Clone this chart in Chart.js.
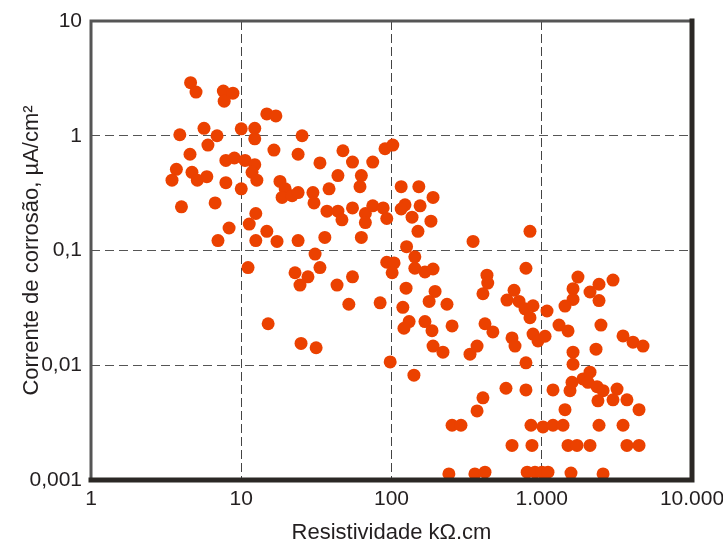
<!DOCTYPE html>
<html>
<head>
<meta charset="utf-8">
<script src="https://cdn.jsdelivr.net/npm/chart.js@4.4.1/dist/chart.umd.min.js"></script>
<style>
  body { margin: 0; background: #fff; }
  #wrap { width: 723px; height: 548px; }
</style>
</head>
<body>
<div id="wrap"><canvas id="grafico" width="723" height="548"></canvas></div>
<script>
// Resistividade (kΩ.cm) e corrente de corrosão (µA/cm²)
const resistividade = [
    4.6, 5.0, 7.6, 8.8, 7.7, 3.9, 5.65, 6.9, 6.0, 10,
    4.56, 3.7, 3.46, 4.7, 5.1, 5.9, 7.9, 9.0, 7.9, 10,
    4.0, 6.7, 8.3, 7.0, 10.6, 12.3, 12.3, 12.3, 11.8, 12.7,
    14.8, 17, 16.5, 25.4, 23.9, 33.4, 18.1, 19.6, 18.7, 21.8,
    23.9, 30, 30.5, 38.4, 44, 47.5, 55, 75, 90.5, 102,
    63, 61.7, 37.2, 44, 46.8, 55, 67, 67, 75, 88,
    93, 12.5, 11.3, 12.5, 14.8, 17.3, 23.9, 36, 63, 11.1,
    31, 33.4, 22.8, 27.8, 24.6, 43.4, 55, 52, 84, 15.1,
    25, 31.5, 98, 116, 152, 189, 123, 116, 155, 137,
    183, 150, 126, 143, 93, 104, 101, 143, 167, 189,
    349, 432, 437, 406, 125, 195, 178, 119, 234, 131,
    121, 167, 186, 253, 189, 220, 333, 371, 141, 419,
    473, 371, 406, 253, 290, 241, 359, 419, 835, 785,
    654, 587, 706, 774, 875, 835, 634, 664, 578, 785,
    785, 634, 861, 848, 800, 902, 1004, 1100, 1565, 2560,
    1019, 1188, 1385, 2405, 3475, 1496, 1717, 2095, 3690, 4440,
    1428, 4440, 1188, 1542, 1590, 1880, 2095, 2030, 2334, 2560,
    3170, 3690, 2366, 2980, 1615, 1615, 2297, 3475, 4050, 4720,
    875, 944, 1052, 1084, 1303, 1496, 2478, 1742, 2405, 2980,
    1615, 2095, 1615, 1428, 2405
];
const corrente = [
    2.9, 2.4, 2.45, 2.35, 2.0, 1.02, 1.16, 1.0, 0.83, 1.15,
    0.69, 0.51, 0.41, 0.48, 0.41, 0.44, 0.61, 0.64, 0.39, 0.345,
    0.24, 0.26, 0.157, 0.122, 0.61, 1.16, 0.94, 0.56, 0.48, 0.41,
    1.55, 1.49, 0.75, 1.0, 0.69, 0.58, 0.4, 0.345, 0.29, 0.3,
    0.32, 0.32, 0.26, 0.345, 0.45, 0.74, 0.59, 0.59, 0.77, 0.83,
    0.45, 0.36, 0.22, 0.22, 0.185, 0.235, 0.21, 0.175, 0.245, 0.235,
    0.19, 0.21, 0.17, 0.122, 0.147, 0.12, 0.122, 0.13, 0.13, 0.071,
    0.093, 0.071, 0.064, 0.059, 0.05, 0.05, 0.059, 0.034, 0.035, 0.023,
    0.0155, 0.0142, 0.0107, 0.36, 0.36, 0.29, 0.25, 0.23, 0.245, 0.195,
    0.18, 0.147, 0.108, 0.088, 0.079, 0.078, 0.064, 0.07, 0.065, 0.069,
    0.12, 0.061, 0.052, 0.042, 0.047, 0.044, 0.036, 0.032, 0.034, 0.024,
    0.021, 0.024, 0.02, 0.022, 0.0147, 0.013, 0.0125, 0.0147, 0.0082, 0.023,
    0.0195, 0.004, 0.0052, 0.003, 0.003, 0.00113, 0.00113, 0.00117, 0.147, 0.07,
    0.045, 0.037, 0.036, 0.031, 0.033, 0.026, 0.0173, 0.0147, 0.0063, 0.0105,
    0.0061, 0.002, 0.002, 0.003, 0.00117, 0.00117, 0.00117, 0.00117, 0.00115, 0.00113,
    0.0029, 0.003, 0.003, 0.003, 0.003, 0.002, 0.002, 0.002, 0.002, 0.002,
    0.0041, 0.0041, 0.0061, 0.006, 0.0071, 0.0076, 0.0087, 0.0071, 0.0065, 0.006,
    0.0062, 0.005, 0.0049, 0.005, 0.0102, 0.013, 0.0138, 0.018, 0.0159, 0.0147,
    0.0187, 0.0163, 0.0179, 0.0297, 0.0224, 0.0199, 0.0224, 0.0587, 0.0508, 0.0552,
    0.0465, 0.0435, 0.0375, 0.0328, 0.0366
];

const xTicks = [1, 10, 100, 1000, 10000];
const xTickLabels = ['1', '10', '100', '1.000', '10.000'];
const yTicks = [0.001, 0.01, 0.1, 1, 10];
const yTickLabels = ['0,001', '0,01', '0,1', '1', '10'];

const fonte = "'Liberation Sans', Arial, sans-serif";
const corTexto = '#231f20';

const pontos = resistividade.map((x, i) => ({ x: x, y: corrente[i] }));

// moldura do gráfico (cinza em cima/esquerda, preta em baixo/direita)
const moldura = {
    id: 'moldura',
    afterDatasetsDraw(chart) {
        const { ctx, chartArea: a } = chart;
        ctx.save();
        ctx.lineCap = 'square';
        ctx.strokeStyle = '#555';
        ctx.lineWidth = 3;
        ctx.beginPath();
        ctx.moveTo(a.left, a.bottom);
        ctx.lineTo(a.left, a.top);
        ctx.lineTo(a.right, a.top);
        ctx.stroke();
        ctx.strokeStyle = '#2b2825';
        ctx.lineWidth = 5;
        ctx.beginPath();
        ctx.moveTo(a.left, a.bottom);
        ctx.lineTo(a.right, a.bottom);
        ctx.lineTo(a.right, a.top);
        ctx.stroke();
        ctx.restore();
    }
};

new Chart(document.getElementById('grafico').getContext('2d'), {
    type: 'scatter',
    data: {
        datasets: [{
            data: pontos,
            backgroundColor: '#eb4100',
            borderWidth: 0,
            pointRadius: 6.5,
            pointHoverRadius: 6.5
        }]
    },
    options: {
        responsive: false,
        animation: false,
        layout: { padding: { top: 21, right: 31, left: 0, bottom: 0 } },
        plugins: {
            legend: { display: false },
            tooltip: { enabled: false }
        },
        scales: {
            x: {
                type: 'logarithmic',
                min: 1,
                max: 10000,
                afterBuildTicks: scale => { scale.ticks = xTicks.map(v => ({ value: v })); },
                afterFit: scale => {
                    scale.height = 68;
                    scale.paddingLeft = 0;
                    scale.paddingRight = 0;
                },
                ticks: {
                    autoSkip: false,
                    maxRotation: 0,
                    padding: 7,
                    color: corTexto,
                    font: { family: fonte, size: 21 },
                    callback: value => xTickLabels[xTicks.indexOf(value)]
                },
                grid: { color: '#444', lineWidth: 1, drawTicks: false },
                border: { display: false, dash: [9, 4] },
                title: {
                    display: true,
                    text: 'Resistividade kΩ.cm',
                    color: corTexto,
                    font: { family: fonte, size: 22 },
                    padding: { top: 0, bottom: 2 }
                }
            },
            y: {
                type: 'logarithmic',
                min: 0.001,
                max: 10,
                afterBuildTicks: scale => { scale.ticks = yTicks.map(v => ({ value: v })); },
                afterFit: scale => {
                    scale.width = 91;
                    scale.paddingTop = 0;
                    scale.paddingBottom = 0;
                },
                ticks: {
                    autoSkip: false,
                    padding: 9,
                    color: corTexto,
                    font: { family: fonte, size: 21 },
                    callback: value => yTickLabels[yTicks.indexOf(value)]
                },
                grid: { color: '#555', lineWidth: 1, drawTicks: false },
                border: { display: false, dash: [9, 5] },
                title: {
                    display: true,
                    text: 'Corrente de corrosão, µA/cm²',
                    color: corTexto,
                    font: { family: fonte, size: 22 },
                    padding: { top: 19, bottom: 0 }
                }
            }
        }
    },
    plugins: [moldura]
});
</script>
</body>
</html>
